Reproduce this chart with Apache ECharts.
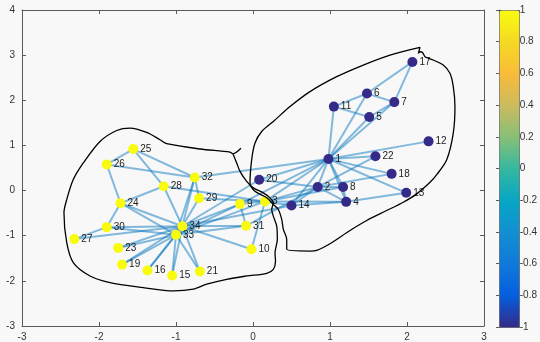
<!DOCTYPE html>
<html>
<head>
<meta charset="utf-8">
<script src="https://cdn.jsdelivr.net/npm/echarts@6/dist/echarts.min.js"></script>
<style>
  html, body { margin: 0; padding: 0; background: #f8f8f8; }
  #chart { width: 540px; height: 342px; }
</style>
</head>
<body>
<div id="chart"></div>
<script>
// Zachary karate club network: node layout, two-way partition and the two drawn group outlines.
const nodeIds = Array.from({ length: 34 }, (_, i) => String(i + 1));
const nodeX = [0.98, 0.84, 0.156, 1.21, 1.51, 1.48, 1.835, 1.17, -0.17, -0.02,
               1.05, 2.28, 1.99, 0.50, -1.05, -1.37, 2.07, 1.80, -1.70, 0.08,
               -0.69, 1.59, -1.75, -1.72, -1.555, -1.90, -2.32, -1.16, -0.70, -1.90,
               -0.09, -0.757, -1.00, -0.918];
const nodeY = [0.70, 0.08, -0.24, -0.25, 1.63, 2.15, 1.96, 0.08, -0.30, -1.30,
               1.86, 1.09, -0.05, -0.33, -1.88, -1.77, 2.85, 0.37, -1.64, 0.24,
               -1.79, 0.76, -1.27, -0.28, 0.92, 0.58, -1.075, 0.095, -0.17, -0.81,
               -0.78, 0.29, -0.98, -0.79];
// partition indicator per node (-1 / +1)
const nodeGroup = [-1, -1, 1, -1, -1, -1, -1, -1, 1, 1,
                   -1, -1, -1, -1, 1, 1, -1, -1, 1, -1,
                   1, -1, 1, 1, 1, 1, 1, 1, 1, 1,
                   1, 1, 1, 1];
const edges = [
  [2,1],[3,1],[3,2],[4,1],[4,2],[4,3],[5,1],[6,1],[7,1],[7,5],[7,6],[8,1],[8,2],[8,3],[8,4],
  [9,1],[9,3],[10,3],[11,1],[11,5],[11,6],[12,1],[13,1],[13,4],[14,1],[14,2],[14,3],[14,4],
  [17,6],[17,7],[18,1],[18,2],[20,1],[20,2],[22,1],[22,2],[26,24],[26,25],[28,3],[28,24],
  [28,25],[29,3],[30,24],[30,27],[31,2],[31,9],[32,1],[32,25],[32,26],[32,29],[33,3],[33,9],
  [33,15],[33,16],[33,19],[33,21],[33,23],[33,24],[33,30],[33,31],[33,32],[34,9],[34,10],
  [34,14],[34,15],[34,16],[34,19],[34,20],[34,21],[34,23],[34,24],[34,27],[34,28],[34,29],
  [34,30],[34,31],[34,32],[34,33]
];
// hand-drawn outline around the first community
const outlineA = [
  [-0.156,0.938],[-0.260,0.817],[-0.299,0.854],[-0.688,0.921],[-1.121,1.038],[-1.208,1.126],
  [-1.381,1.287],[-1.597,1.384],[-1.770,1.331],[-1.987,1.088],[-2.204,0.611],[-2.334,0.243],
  [-2.419,-0.199],[-2.455,-0.492],[-2.419,-1.155],[-2.334,-1.596],[-2.117,-1.892],[-1.857,-2.038],
  [-1.425,-2.148],[-1.035,-2.223],[-0.775,-2.185],[-0.601,-2.075],[-0.342,-1.965],[-0.082,-1.892],
  [0.178,-1.832],[0.264,-1.744],[0.292,-1.567],[0.286,-1.375],[0.316,-1.082],[0.308,-0.788],
  [0.264,-0.567],[0.243,-0.419],[0.264,-0.272],[0.221,-0.161],[0.134,-0.051],[0.004,0.060],
  [-0.082,0.205],[-0.169,0.426],[-0.212,0.611],[-0.260,0.817]
];
// hand-drawn outline around the second community
const outlineB = [
  [0.740,-1.340],[0.438,-1.302],[0.438,-1.082],[0.394,-0.861],[0.373,-0.640],[0.329,-0.419],
  [0.264,-0.309],[0.178,-0.161],[0.026,-0.015],[-0.039,0.170],[-0.017,0.684],[0.026,1.053],
  [0.113,1.309],[0.264,1.530],[0.481,1.861],[0.740,2.192],[1.087,2.523],[1.432,2.781],
  [1.779,3.002],[2.169,3.172],[2.147,3.040],[2.169,3.075],[2.204,3.053],[2.234,2.965],
  [2.342,2.892],[2.471,2.781],[2.558,2.598],[2.601,2.302],[2.623,1.861],[2.601,1.274],
  [2.516,0.684],[2.386,0.353],[2.299,0.183],[2.126,-0.073],[1.952,-0.258],[1.736,-0.442],
  [1.477,-0.662],[1.260,-0.883],[1.000,-1.177],[0.827,-1.325],[0.740,-1.340]
];
const colorbarTicks = [-1, -0.8, -0.6, -0.4, -0.2, 0, 0.2, 0.4, 0.6, 0.8, 1];

const parula = ['#352a87', '#055ede', '#1079da', '#128fd2', '#07a6c5', '#35b8a0',
                '#87bf77', '#cbbb5e', '#f9bb3a', '#f5d924', '#f9fb0e'];

const font = '"Liberation Sans", Arial, Helvetica, sans-serif';
const axisColor = '#5a5a5a';
const labelColor = '#333333';

const nodeData = nodeIds.map((id, i) => [nodeX[i], nodeY[i], nodeGroup[i], id]);
const edgeData = edges.map(([a, b]) => ({
  coords: [[nodeX[a - 1], nodeY[a - 1]], [nodeX[b - 1], nodeY[b - 1]]]
}));

function mainAxis(pos, isX, showLabel) {
  return {
    type: 'value',
    gridIndex: 0,
    position: pos,
    min: -3,
    max: isX ? 3 : 4,
    interval: 1,
    splitLine: { show: false },
    axisLine: { show: true, onZero: false, lineStyle: { color: axisColor, width: 1 } },
    axisTick: { show: true, inside: true, length: 4, lineStyle: { color: axisColor } },
    axisLabel: { show: showLabel, color: labelColor, fontSize: 10, fontFamily: font, margin: isX ? 6 : 7 }
  };
}

const chart = echarts.init(document.getElementById('chart'), null, { renderer: 'canvas' });
chart.setOption({
  animation: false,
  backgroundColor: '#f8f8f8',
  grid: [
    { left: 22, top: 10, width: 462, height: 317, show: false },
    { left: 499, top: 10, width: 20, height: 317, show: false }
  ],
  xAxis: [
    mainAxis('bottom', true, true),
    mainAxis('top', true, false),
    { type: 'value', gridIndex: 1, min: 0, max: 1, show: false }
  ],
  yAxis: [
    mainAxis('left', false, true),
    mainAxis('right', false, false),
    {
      type: 'value', gridIndex: 1, position: 'right', min: -1, max: 1, interval: 0.2,
      splitLine: { show: false },
      axisLine: { show: true, lineStyle: { color: axisColor } },
      axisTick: { show: true, inside: true, length: 3, lineStyle: { color: axisColor } },
      axisLabel: {
        color: labelColor, fontSize: 10, fontFamily: font, margin: 4,
        formatter: v => {
          const t = colorbarTicks.find(c => Math.abs(c - v) < 1e-6);
          return t === undefined ? '' : String(t);
        }
      }
    }
  ],
  visualMap: {
    type: 'continuous',
    min: -1, max: 1,
    dimension: 2,
    seriesIndex: 1,
    orient: 'vertical',
    left: 499, top: 10,
    itemWidth: 20, itemHeight: 317,
    padding: 0,
    calculable: false,
    hoverLink: false,
    text: null,
    borderColor: axisColor,
    borderWidth: 1,
    inRange: { color: parula }
  },
  series: [
    {
      type: 'lines',
      coordinateSystem: 'cartesian2d',
      xAxisIndex: 0, yAxisIndex: 0,
      z: 1,
      lineStyle: { color: '#0072BD', opacity: 0.48, width: 2 },
      data: edgeData,
      silent: true
    },
    {
      type: 'scatter',
      xAxisIndex: 0, yAxisIndex: 0,
      z: 2,
      symbolSize: 10,
      itemStyle: { opacity: 1 },
      data: nodeData,
      label: {
        show: true, position: 'right', distance: 2,
        formatter: p => p.value[3],
        color: '#222', fontSize: 10, fontFamily: font
      }
    },
    {
      type: 'line',
      xAxisIndex: 0, yAxisIndex: 0,
      z: 5,
      data: outlineA,
      showSymbol: false,
      smooth: 0.3,
      lineStyle: { color: '#000', width: 1.3 },
      silent: true
    },
    {
      type: 'line',
      xAxisIndex: 0, yAxisIndex: 0,
      z: 5,
      data: outlineB,
      showSymbol: false,
      smooth: 0.3,
      lineStyle: { color: '#000', width: 1.3 },
      silent: true
    }
  ]
});
</script>
</body>
</html>
